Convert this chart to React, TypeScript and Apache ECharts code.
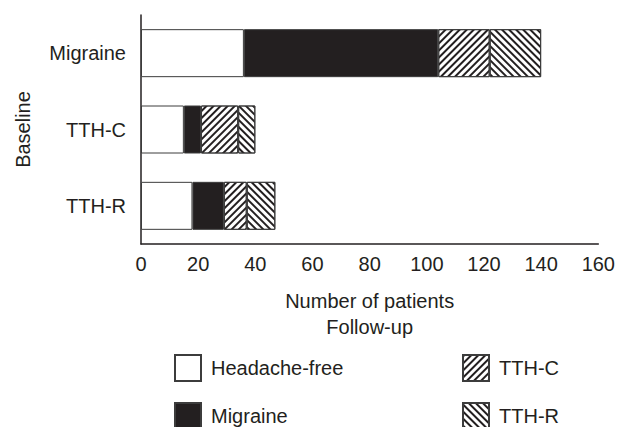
import React, { useEffect, useRef } from "react";
import * as echarts from "echarts";

const categories = ["Migraine", "TTH-C", "TTH-R"];
const headacheFree = [36, 15, 18];
const migraine = [68, 6, 11];
const tthC = [18, 13, 8];
const tthR = [18, 6, 10];
const xTicks = [0, 20, 40, 60, 80, 100, 120, 140, 160];

const INK = "#231f20";
const FONT = "Liberation Sans";

export default function App() {
  const ref = useRef<HTMLDivElement>(null);
  useEffect(() => {
    if (!ref.current) return;
    const chart = echarts.init(ref.current, null, { renderer: "svg" });
    const border = { borderColor: "#3c3c3c", borderWidth: 1 };
    const hatch = (rot: number) => ({
      color: INK,
      symbol: "rect",
      symbolSize: 1,
      dashArrayX: [1, 0],
      dashArrayY: [1.2, 2.4],
      rotation: rot,
    });
    const legendBase = {
      orient: "vertical",
      top: 354,
      height: 200,
      padding: 0,
      itemWidth: 26,
      itemHeight: 26,
      itemGap: 20,
      icon: "rect",
      textStyle: { fontSize: 20, color: INK, fontFamily: FONT, padding: [0, 0, 0, 5] },
    };
    chart.setOption({
      animation: false,
      textStyle: { fontFamily: FONT, color: INK },
      grid: { left: 141, right: 17, top: 15, bottom: 183, containLabel: false },
      xAxis: {
        type: "value",
        min: xTicks[0],
        max: xTicks[xTicks.length - 1],
        interval: 20,
        name: "Number of patients\nFollow-up",
        nameLocation: "middle",
        nameGap: 44,
        nameTextStyle: { fontSize: 20, lineHeight: 26, color: INK, fontFamily: FONT },
        axisLine: { show: true, lineStyle: { color: INK, width: 1.5 } },
        axisTick: { show: false },
        splitLine: { show: false },
        axisLabel: { fontSize: 20, color: INK, margin: 10, fontFamily: FONT },
      },
      yAxis: {
        type: "category",
        data: categories,
        inverse: true,
        name: "Baseline",
        nameLocation: "middle",
        nameGap: 108,
        nameRotate: 90,
        nameTextStyle: { fontSize: 20, color: INK, fontFamily: FONT },
        axisLine: { show: true, lineStyle: { color: INK, width: 1.5 } },
        axisTick: { show: false },
        axisLabel: { fontSize: 20, color: INK, margin: 15, fontFamily: FONT },
      },
      legend: [
        { ...legendBase, data: ["Headache-free", "Migraine"], left: 174 },
        { ...legendBase, data: ["TTH-C", "TTH-R"], left: 462 },
      ],
      series: [
        {
          name: "Headache-free",
          type: "bar",
          stack: "s",
          barWidth: 48,
          data: headacheFree,
          itemStyle: { color: "#ffffff", ...border },
        },
        {
          name: "Migraine",
          type: "bar",
          stack: "s",
          barWidth: 48,
          data: migraine,
          itemStyle: { color: INK, ...border },
        },
        {
          name: "TTH-C",
          type: "bar",
          stack: "s",
          barWidth: 48,
          data: tthC,
          itemStyle: { color: "#ffffff", ...border, decal: hatch(-Math.PI / 4) },
        },
        {
          name: "TTH-R",
          type: "bar",
          stack: "s",
          barWidth: 48,
          data: tthR,
          itemStyle: { color: "#ffffff", ...border, decal: hatch(Math.PI / 4) },
        },
      ],
    });
    return () => chart.dispose();
  }, []);
  return (
    <div
      ref={ref}
      style={{ position: "absolute", left: 0, top: 0, width: 618, height: 427 }}
    />
  );
}
